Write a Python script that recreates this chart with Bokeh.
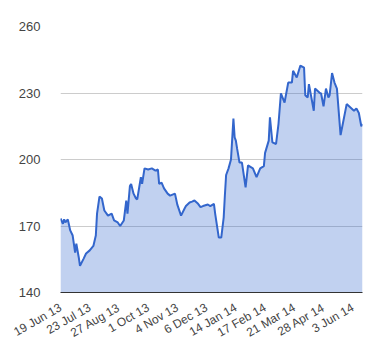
import math
from bokeh.plotting import figure
from bokeh.models import Range1d, FixedTicker
from bokeh.embed import file_html
from bokeh.resources import INLINE

# trading-day index and closing price
days = [0, 2, 3, 4, 6, 8, 10, 12, 13, 15, 16, 19, 21, 24, 27, 29, 30, 32, 34, 36,
        39, 42, 44, 47, 49, 52, 54, 55, 57, 58, 60, 62, 63, 66, 67, 69, 72, 75, 78,
        80, 81, 83, 85, 88, 90, 94, 96, 99, 102, 103, 106, 108, 110, 113, 115, 117,
        121, 123, 126, 127, 130, 132, 134, 135, 136, 138, 140, 142, 143, 144, 145,
        147, 149, 152, 154, 158, 161, 164, 167, 168, 171, 172, 174, 177, 179, 181,
        184, 187, 190, 191, 194, 197, 200, 201, 203, 204, 208, 209, 213, 214, 216,
        218, 220, 221, 223, 225, 227, 230, 232, 235, 237, 241, 243, 245, 247, 248]
price = [173.4, 171.0, 173.0, 171.6, 173.0, 168.0, 165.7, 158.0, 162.0, 155.8, 152.0,
         155.3, 157.6, 159.0, 161.0, 165.7, 175.6, 183.3, 182.4, 177.0,
         174.7, 175.6, 172.5, 171.6, 170.0, 172.5, 181.5, 175.6, 188.0, 189.0,
         184.6, 182.4, 182.0, 192.0, 189.0, 196.0, 195.5, 196.0, 195.0,
         195.5, 189.0, 189.6, 187.0, 184.6, 183.7, 184.6, 179.5, 174.7, 178.0, 179.0,
         180.6, 181.0, 181.5, 180.0, 178.5, 179.0,
         179.7, 179.0, 180.0, 175.6, 164.8, 164.8, 173.8, 184.0, 193.0, 196.0, 200.0,
         218.5, 210.0, 208.5, 205.0,
         198.6, 198.6, 187.4, 197.3, 196.0, 192.0, 196.0, 197.0, 203.0, 208.5, 219.0,
         207.7, 207.0, 216.0, 229.8,
         225.7, 234.7, 234.7, 240.0, 237.0, 242.4, 241.5, 229.0, 228.0, 234.0, 222.0,
         232.0, 230.0, 229.8, 224.0,
         232.0, 228.0, 229.0, 239.0, 234.7, 232.0, 211.0, 216.6, 225.0, 224.0, 222.0,
         223.0, 221.0, 215.0, 216.0]

tick_days = [0, 24, 48, 72, 96, 120, 144, 168, 192, 216, 240]
tick_labels = ["19 Jun 13", "23 Jul 13", "27 Aug 13", "1 Oct 13", "4 Nov 13",
               "6 Dec 13", "14 Jan 14", "17 Feb 14", "21 Mar 14", "28 Apr 14",
               "3 Jun 14"]
y_ticks = [140, 170, 200, 230, 260]

p = figure(width=372, height=352, output_backend="svg", toolbar_location=None,
           x_range=Range1d(0, 248), y_range=Range1d(140, 260),
           min_border_left=60, min_border_right=10, min_border_top=26,
           min_border_bottom=60)
p.outline_line_color = None
p.background_fill_color = "white"

p.varea(x=days, y1=140, y2=price, fill_color="#3366cc", fill_alpha=0.3)
p.line(days, price, line_color="#3366cc", line_width=2)

p.xgrid.visible = False
p.ygrid.ticker = FixedTicker(ticks=y_ticks)
p.ygrid.grid_line_color = "#cccccc"

p.xaxis.ticker = FixedTicker(ticks=tick_days)
p.xaxis.major_label_overrides = {d: l for d, l in zip(tick_days, tick_labels)}
p.xaxis.major_label_orientation = math.pi / 6
p.xaxis.axis_line_color = "#333333"
p.xaxis.major_tick_line_color = None
p.xaxis.minor_tick_line_color = None
p.xaxis.major_label_text_font = "Liberation Sans"
p.xaxis.major_label_text_font_size = "12px"
p.xaxis.major_label_text_color = "#444444"
p.xaxis.major_label_standoff = 8

p.yaxis.ticker = FixedTicker(ticks=y_ticks)
p.yaxis.axis_line_color = None
p.yaxis.major_tick_line_color = None
p.yaxis.minor_tick_line_color = None
p.yaxis.major_label_text_font = "Liberation Sans"
p.yaxis.major_label_text_font_size = "13px"
p.yaxis.major_label_text_color = "#444444"
p.yaxis.major_label_standoff = 14

open("out.html", "w").write(file_html(p, INLINE))
